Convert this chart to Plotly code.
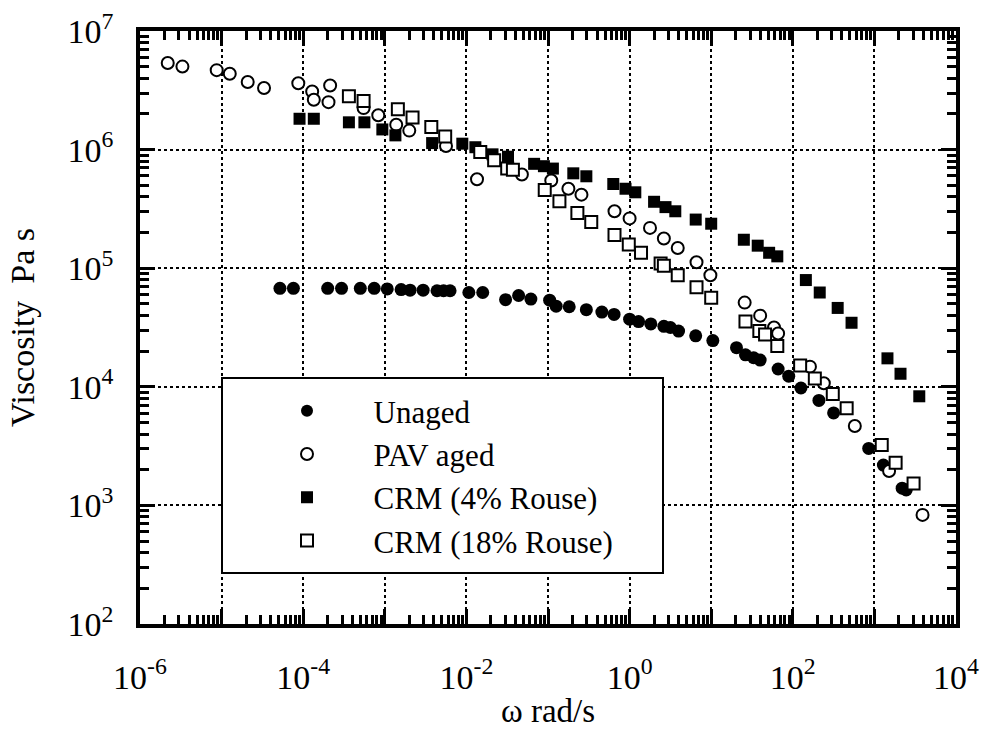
import plotly.graph_objects as go

# log10(omega [rad/s]) and log10(viscosity [Pa s])
unaged_logw = [-4.285, -4.12, -3.70, -3.53, -3.30, -3.13, -2.97, -2.80, -2.69, -2.53, -2.36, -2.28, -2.20,
               -1.97, -1.80, -1.52, -1.36, -1.21, -0.98, -0.90, -0.74, -0.53, -0.34, -0.19, 0.0, 0.11,
               0.26, 0.42, 0.50, 0.60, 0.81, 1.02, 1.31, 1.42, 1.52, 1.60, 1.82, 1.95, 2.10, 2.32, 2.50,
               2.93, 3.11, 3.34, 3.39]
unaged_logeta = [4.83, 4.83, 4.83, 4.83, 4.83, 4.83, 4.825, 4.82, 4.815, 4.815, 4.81, 4.81, 4.81,
                 4.795, 4.795, 4.735, 4.77, 4.74, 4.73, 4.68, 4.675, 4.65, 4.63, 4.61, 4.57, 4.55,
                 4.53, 4.51, 4.50, 4.47, 4.43, 4.39, 4.33, 4.27, 4.245, 4.225, 4.15, 4.09, 3.99, 3.885, 3.78,
                 3.48, 3.34, 3.145, 3.13]

pav_logw = [-5.66, -5.48, -5.06, -4.90, -4.68, -4.48, -4.06, -3.89, -3.67, -3.87, -3.69, -3.26, -3.08,
            -2.86, -2.70, -2.25, -1.87, -1.32, -0.96, -0.75, -0.59, -0.185, 0.0, 0.25, 0.42, 0.59,
            0.82, 0.99, 1.41, 1.60, 1.77, 1.82, 2.21, 2.38, 2.76, 3.18, 3.59]
pav_logeta = [6.73, 6.70, 6.67, 6.64, 6.57, 6.52, 6.56, 6.49, 6.54, 6.42, 6.40, 6.35, 6.29,
              6.21, 6.16, 6.03, 5.75, 5.79, 5.74, 5.67, 5.62, 5.48, 5.42, 5.34, 5.25, 5.17,
              5.05, 4.94, 4.71, 4.60, 4.50, 4.45, 4.17, 4.03, 3.67, 3.29, 2.92]

crm4_logw = [-4.045, -3.87, -3.44, -3.25, -3.03, -2.87, -2.42, -2.05, -1.89, -1.68, -1.49, -1.17, -1.05,
             -0.94, -0.69, -0.53, -0.20, -0.05, 0.07, 0.30, 0.44, 0.56, 0.81, 1.0, 1.40, 1.57, 1.71,
             1.81, 2.16, 2.33, 2.55, 2.72, 3.16, 3.32, 3.55]
crm4_logeta = [6.26, 6.26, 6.23, 6.23, 6.17, 6.12, 6.055, 6.05, 6.02, 5.96, 5.94, 5.88, 5.86,
               5.84, 5.80, 5.775, 5.71, 5.67, 5.64, 5.56, 5.515, 5.48, 5.41, 5.375, 5.24, 5.19, 5.13,
               5.10, 4.90, 4.795, 4.665, 4.54, 4.24, 4.11, 3.92]

crm18_logw = [-3.44, -3.26, -2.84, -2.66, -2.43, -2.26, -1.83, -1.66, -1.50, -1.43, -1.04, -0.86, -0.64,
              -0.47, -0.185, -0.01, 0.14, 0.38, 0.42, 0.59, 0.82, 1.0, 1.42, 1.59, 1.66, 1.81, 2.09,
              2.27, 2.49, 2.66, 3.09, 3.26, 3.48]
crm18_logeta = [6.45, 6.41, 6.34, 6.27, 6.19, 6.11, 5.98, 5.91, 5.84, 5.83, 5.66, 5.565, 5.465,
                5.39, 5.28, 5.20, 5.13, 5.04, 5.02, 4.94, 4.84, 4.75, 4.55, 4.47, 4.44, 4.345, 4.18,
                4.07, 3.94, 3.82, 3.51, 3.36, 3.185]

x_exponents = [-6, -5, -4, -3, -2, -1, 0, 1, 2, 3, 4]
y_exponents = [2, 3, 4, 5, 6, 7]
legend_names = ["Unaged", "PAV aged", "CRM (4% Rouse)", "CRM (18% Rouse)"]

FONT = "Liberation Serif"


def pw(vals):
    return [10.0 ** v for v in vals]


pad = "\u00a0" * 6
fig = go.Figure()
fig.add_trace(go.Scatter(x=pw(unaged_logw), y=pw(unaged_logeta), mode="markers", name=pad + legend_names[0],
                         marker=dict(symbol="circle", size=13, color="black", line=dict(width=0))))
fig.add_trace(go.Scatter(x=pw(pav_logw), y=pw(pav_logeta), mode="markers", name=pad + legend_names[1],
                         marker=dict(symbol="circle", size=12, color="white", line=dict(width=2, color="black"))))
fig.add_trace(go.Scatter(x=pw(crm4_logw), y=pw(crm4_logeta), mode="markers", name=pad + legend_names[2],
                         marker=dict(symbol="square", size=12, color="black", line=dict(width=0))))
fig.add_trace(go.Scatter(x=pw(crm18_logw), y=pw(crm18_logeta), mode="markers", name=pad + legend_names[3],
                         marker=dict(symbol="square", size=12, color="white", line=dict(width=2, color="black"))))

xt_text = [("10<sup>%d</sup>" % e) if e % 2 == 0 else "" for e in x_exponents]
yt_text = ["10<sup>%d</sup>" % e for e in y_exponents]
minor_x = [m * 10.0 ** e for e in x_exponents[:-1] for m in range(2, 10)]
minor_y = [m * 10.0 ** e for e in y_exponents[:-1] for m in range(2, 10)]

axis_common = dict(type="log", showline=True, linewidth=3.5, linecolor="black", mirror="allticks",
                   ticks="inside", ticklen=15, tickwidth=2.5, tickcolor="black",
                   showgrid=True, gridcolor="black", griddash="dot", gridwidth=1.8,
                   zeroline=False, automargin=False,
                   tickfont=dict(family=FONT, size=34, color="black"))

fig.update_xaxes(**axis_common, range=[-6, 4], tickmode="array",
                 tickvals=[10.0 ** e for e in x_exponents], ticktext=xt_text,
                 minor=dict(tickmode="array", tickvals=minor_x, ticks="inside", ticklen=9, tickwidth=2.5,
                            tickcolor="black", showgrid=False),
                 ticklabelstandoff=20,
                 title=dict(text="ω rad/s", font=dict(family=FONT, size=33, color="black"), standoff=12))
fig.update_yaxes(**axis_common, range=[2, 7], tickmode="array",
                 tickvals=[10.0 ** e for e in y_exponents], ticktext=yt_text,
                 minor=dict(tickmode="array", tickvals=minor_y, ticks="inside", ticklen=9, tickwidth=2.5,
                            tickcolor="black", showgrid=False),
                 ticklabelstandoff=16,
                 title=dict(text="Viscosity  Pa s", font=dict(family=FONT, size=34, color="black"), standoff=24))

# legend frame (paper coords of the plot area)
L, R, T, B = 140, 956, 31, 624
def px_x(p): return (p - L) / (R - L)
def px_y(p): return (B - p) / (B - T)

fig.add_shape(type="rect", xref="paper", yref="paper", x0=px_x(222), x1=px_x(663), y0=px_y(573), y1=px_y(378),
              line=dict(color="black", width=2), fillcolor="white", layer="above")

fig.update_layout(width=985, height=729, margin=dict(l=140, r=29, t=31, b=105),
                  paper_bgcolor="white", plot_bgcolor="white",
                  font=dict(family=FONT, color="black"),
                  legend=dict(x=px_x(287), y=px_y(384), xanchor="left", yanchor="top",
                              bgcolor="rgba(0,0,0,0)", borderwidth=0,
                              font=dict(family=FONT, size=31, color="black"),
                              tracegroupgap=0, itemsizing="constant"))

fig.write_html("out.html")
